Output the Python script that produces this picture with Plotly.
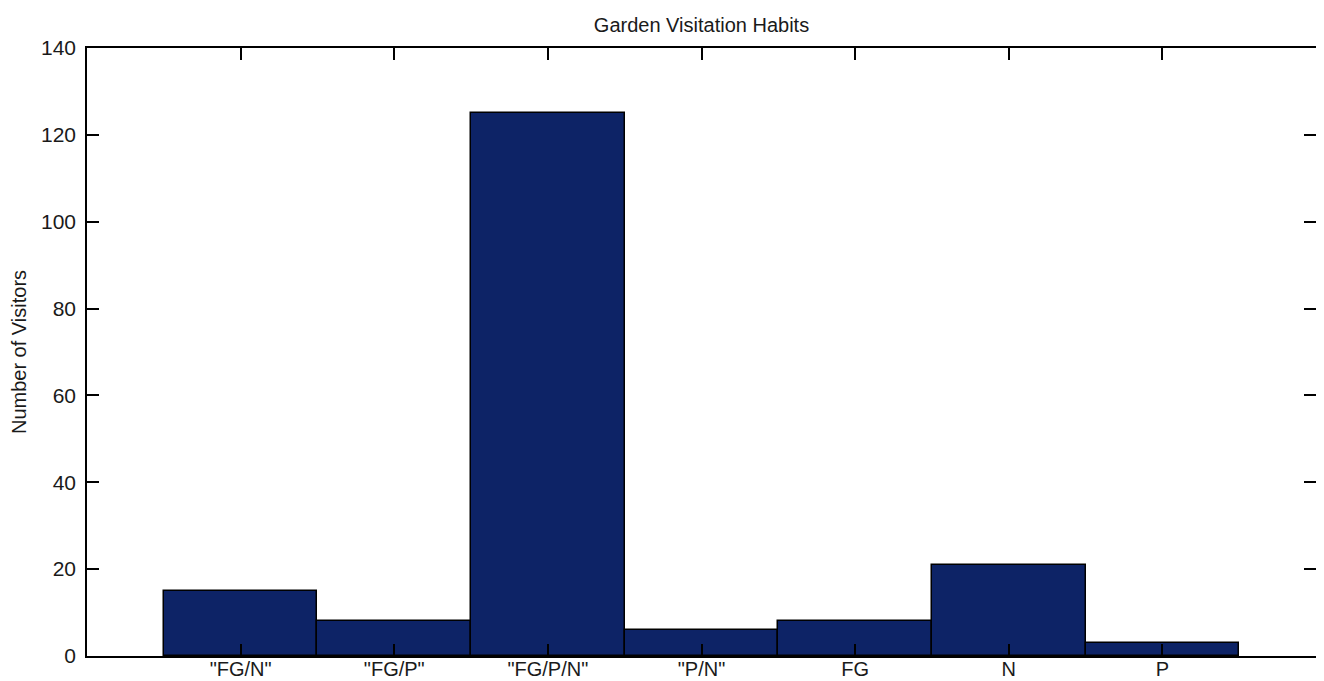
import plotly.graph_objects as go

categories = ['"FG/N"', '"FG/P"', '"FG/P/N"', '"P/N"', 'FG', 'N', 'P']
visitors = [15, 8, 125, 6, 8, 21, 3]
y_ticks = [0, 20, 40, 60, 80, 100, 120, 140]

fig = go.Figure()
fig.add_trace(go.Bar(
    x=categories, y=visitors,
    marker=dict(color="rgb(13,35,102)", line=dict(color="black", width=1.5)),
))

font = dict(family="Liberation Sans, Arial, sans-serif", size=20, color="#1a1a1a")

# page body has an 8px default margin, so the figure is sized to fit inside it
fig.update_layout(
    width=1316, height=673,
    margin=dict(l=79, r=8, t=40, b=25),
    plot_bgcolor="white", paper_bgcolor="white",
    bargap=0,
    showlegend=False,
    font=font,
    title=dict(text="Garden Visitation Habits", x=0.5, xref="paper",
               y=1 - 17 / 673, yanchor="middle", font=dict(size=20)),
)
fig.update_xaxes(
    range=[-1, 7], showline=True, linecolor="black", linewidth=1.5, mirror="ticks",
    ticks="inside", ticklen=12, tickcolor="black", tickwidth=1.5, automargin=False,
    showgrid=False, tickfont=dict(size=20), ticklabelstandoff=-6,
)
fig.update_yaxes(
    range=[0, 140], tickvals=y_ticks, showline=True, linecolor="black", linewidth=1.5,
    mirror="ticks", ticks="inside", ticklen=12, tickcolor="black", tickwidth=1.5,
    showgrid=False, zeroline=False, tickfont=dict(size=21), ticklabelstandoff=5,
    automargin=False,
    title=dict(text="Number of Visitors", font=dict(size=20), standoff=14),
)

fig.write_html("out.html")
